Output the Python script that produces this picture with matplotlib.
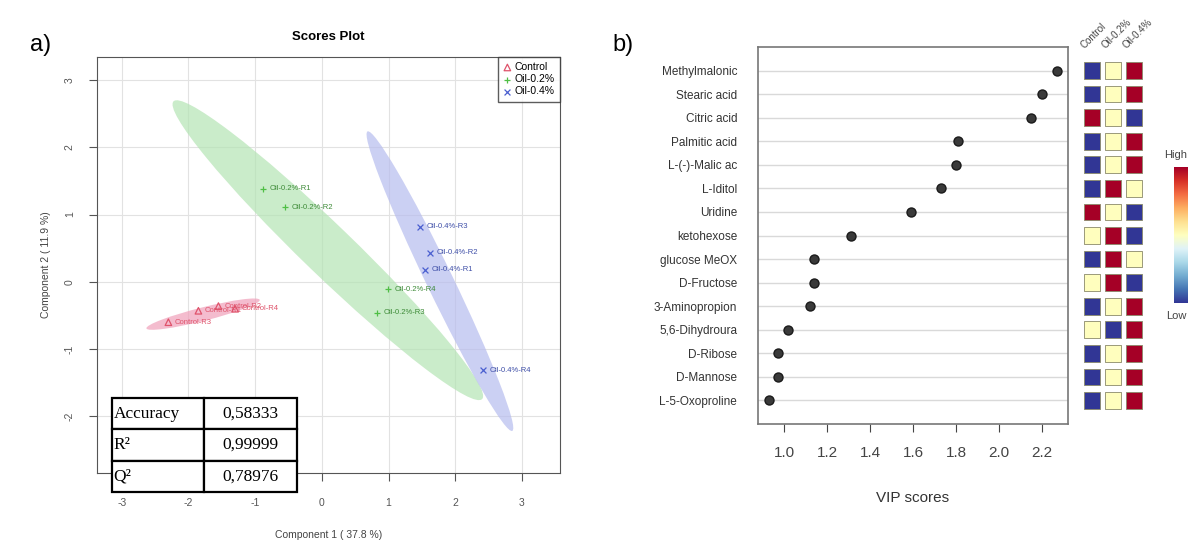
import numpy as np
import matplotlib.pyplot as plt
from matplotlib.patches import Ellipse

plt.rcParams["font.family"] = ["Liberation Sans", "DejaVu Sans"]
plt.rcParams["axes.unicode_minus"] = False

# scores plot data
control_x = [-1.85, -1.55, -2.30, -1.30]
control_y = [-0.43, -0.36, -0.60, -0.40]
control_labels = ["Control-R1", "Control-R2", "Control-R3", "Control-R4"]

oil02_x = [-0.88, -0.55, 0.82, 0.99]
oil02_y = [1.38, 1.11, -0.46, -0.11]
oil02_labels = ["Oil-0.2%-R1", "Oil-0.2%-R2", "Oil-0.2%-R3", "Oil-0.2%-R4"]

oil04_x = [1.54, 1.62, 1.47, 2.41]
oil04_y = [0.18, 0.43, 0.82, -1.31]
oil04_labels = ["Oil-0.4%-R1", "Oil-0.4%-R2", "Oil-0.4%-R3", "Oil-0.4%-R4"]

# 95% regions: centre x, centre y, major, minor, angle
ellipse_control = [-1.78, -0.48, 1.75, 0.2, 14]
ellipse_oil02 = [0.09, 0.47, 6.4, 0.75, -43.7]
ellipse_oil04 = [1.77, 0.01, 4.95, 0.40, -64]

table_rows = ["Accuracy", "R²", "Q²"]
table_values = ["0,58333", "0,99999", "0,78976"]

# VIP data
metabolites = [
    "Methylmalonic", "Stearic acid", "Citric acid", "Palmitic acid",
    "L-(-)-Malic ac", "L-Iditol", "Uridine", "ketohexose", "glucose MeOX",
    "D-Fructose", "3-Aminopropion", "5,6-Dihydroura", "D-Ribose",
    "D-Mannose", "L-5-Oxoproline"
]
vip_scores = [2.27, 2.20, 2.15, 1.81, 1.80, 1.73, 1.59, 1.31, 1.14,
              1.14, 1.12, 1.02, 0.97, 0.97, 0.93]
groups = ["Control", "Oil-0.2%", "Oil-0.4%"]
# 0 = low, 0.5 = mid, 1 = high
heat_values = [
    [0, 0.5, 1], [0, 0.5, 1], [1, 0.5, 0], [0, 0.5, 1], [0, 0.5, 1],
    [0, 1, 0.5], [1, 0.5, 0], [0.5, 1, 0], [0, 1, 0.5], [0.5, 1, 0],
    [0, 0.5, 1], [0.5, 0, 1], [0, 0.5, 1], [0, 0.5, 1], [0, 0.5, 1]
]

c_control = "#DF536B"
c_oil02 = "#4fbf45"
c_oil04 = "#4a5fd0"

W, H = 1190, 547
fig = plt.figure(figsize=(W / 100, H / 100), dpi=100)

# ---------- a) scores plot ----------
ax1 = fig.add_axes([97 / W, (H - 473) / H, 463 / W, 416 / H])
ax1.set_xlim(-3.37, 3.57)
ax1.set_ylim(-2.84, 3.34)

for e, col in [(ellipse_oil02, "#b4e4b4"), (ellipse_oil04, "#b6bcee"),
               (ellipse_control, "#f0a0ba")]:
    ax1.add_patch(Ellipse((e[0], e[1]), e[2], e[3], angle=e[4],
                          facecolor=col, edgecolor="none", alpha=0.7,
                          zorder=1))

ax1.scatter(control_x, control_y, marker="^", facecolors="none",
            edgecolors=c_control, s=22, lw=0.9, zorder=3, label="Control")
ax1.scatter(oil02_x, oil02_y, marker="+", color=c_oil02, s=22, lw=0.9,
            zorder=3, label="Oil-0.2%")
ax1.scatter(oil04_x, oil04_y, marker="x", color=c_oil04, s=18, lw=0.9,
            zorder=3, label="Oil-0.4%")

for xs, ys, labs, col in [(control_x, control_y, control_labels, c_control),
                          (oil02_x, oil02_y, oil02_labels, "#3d8a37"),
                          (oil04_x, oil04_y, oil04_labels, "#3f4fa8")]:
    for x, y, lab in zip(xs, ys, labs):
        ax1.text(x + 0.1, y, lab, fontsize=5.5, color=col, va="center",
                 zorder=4)

ax1.set_xticks(range(-3, 4))
ax1.set_yticks(range(-2, 4))
ax1.tick_params(labelsize=7.5, colors="#555555", length=6)
ax1.tick_params(axis="x", pad=12)
ax1.tick_params(axis="y", pad=10)
for lab in ax1.get_yticklabels():
    lab.set_rotation(90)
    lab.set_va("center")
ax1.grid(color="#e2e2e2", lw=0.8)
ax1.set_axisbelow(True)
for s in ax1.spines.values():
    s.set_color("#555555")

ax1.set_title("Scores Plot", fontsize=9.5, fontweight="bold", pad=12)
ax1.set_xlabel("Component 1 ( 37.8 %)", fontsize=7.5, color="#444444",
               labelpad=16)
ax1.set_ylabel("Component 2 ( 11.9 %)", fontsize=7.5, color="#444444",
               labelpad=10)

leg = ax1.legend(loc="upper right", fontsize=7.5, borderaxespad=0,
                 fancybox=False, edgecolor="#333333", handletextpad=0.3,
                 labelspacing=0.2, borderpad=0.5, handlelength=0.8)
leg.get_frame().set_linewidth(1.0)

table = ax1.table(cellText=[[r, v] for r, v in zip(table_rows, table_values)],
                  bbox=[0.032, -0.046, 0.4, 0.226], cellLoc="center",
                  zorder=6)
table.auto_set_font_size(False)
for (r, c), cell in table.get_celld().items():
    cell.set_linewidth(1.6)
    cell.set_edgecolor("black")
    cell.set_facecolor("white")
    cell.get_text().set_fontsize(12.5)
    cell.get_text().set_fontfamily("Liberation Serif")
    if c == 0:
        cell.get_text().set_ha("left")
        cell._loc = "left"
        cell.PAD = 0.02
table.set_clip_on(False)

fig.text(30 / W, 1 - 45 / H, "a)", fontsize=17, va="center")
fig.text(612 / W, 1 - 45 / H, "b)", fontsize=17, va="center")

# ---------- b) VIP plot ----------
ax2 = fig.add_axes([758 / W, (H - 424) / H, 310 / W, 377 / H])
rows = np.arange(len(metabolites))
ax2.set_xlim(0.879, 2.321)
ax2.set_ylim(15, -1)
for r in rows:
    ax2.axhline(r, color="#d9d9d9", lw=1.0, zorder=0)
ax2.scatter(vip_scores, rows, s=42, color="#3a3a3a", edgecolors="#1a1a1a",
            zorder=3)
ax2.set_yticks(rows)
ax2.set_yticklabels(metabolites, fontsize=8.5, color="#333333")
ax2.tick_params(axis="y", length=0, pad=15)
ax2.set_xticks([1.0, 1.2, 1.4, 1.6, 1.8, 2.0, 2.2])
ax2.set_xticklabels(["1.0", "1.2", "1.4", "1.6", "1.8", "2.0", "2.2"])
ax2.tick_params(axis="x", labelsize=11, colors="#444444", length=6, pad=10)
ax2.set_xlabel("VIP scores", fontsize=11, color="#333333", labelpad=22)
for s in ax2.spines.values():
    s.set_color("#777777")
    s.set_linewidth(1.2)

# heatmap column
ax3 = fig.add_axes([1081.5 / W, (H - 424) / H, 63 / W, 377 / H])
ax3.set_xlim(-0.5, 2.5)
ax3.set_ylim(15, -1)
ax3.axis("off")
heat = np.array(heat_values)
cx, cy = np.meshgrid(np.arange(3), rows)
ax3.scatter(cx.ravel(), cy.ravel(), c=heat.ravel(), cmap="RdYlBu_r",
            vmin=0, vmax=1, marker="s", s=145, edgecolors="#8a8a6a",
            linewidths=0.6)
for i, g in enumerate(groups):
    ax3.text(i - 0.3, -0.85, g, fontsize=7, rotation=45, ha="left",
             va="bottom", rotation_mode="anchor", color="#444444",
             clip_on=False)

# colour key
ax4 = fig.add_axes([1174 / W, (H - 303) / H, 14 / W, 136 / H])
ax4.imshow(np.linspace(1, 0, 256).reshape(-1, 1), aspect="auto",
           cmap="RdYlBu_r")
ax4.axis("off")
fig.text(1164 / W, 1 - 155 / H, "High", fontsize=8, color="#444444",
         va="center")
fig.text(1166 / W, 1 - 316 / H, "Low", fontsize=8, color="#444444",
         va="center")

fig.savefig("out.png", dpi=100, facecolor="white")
